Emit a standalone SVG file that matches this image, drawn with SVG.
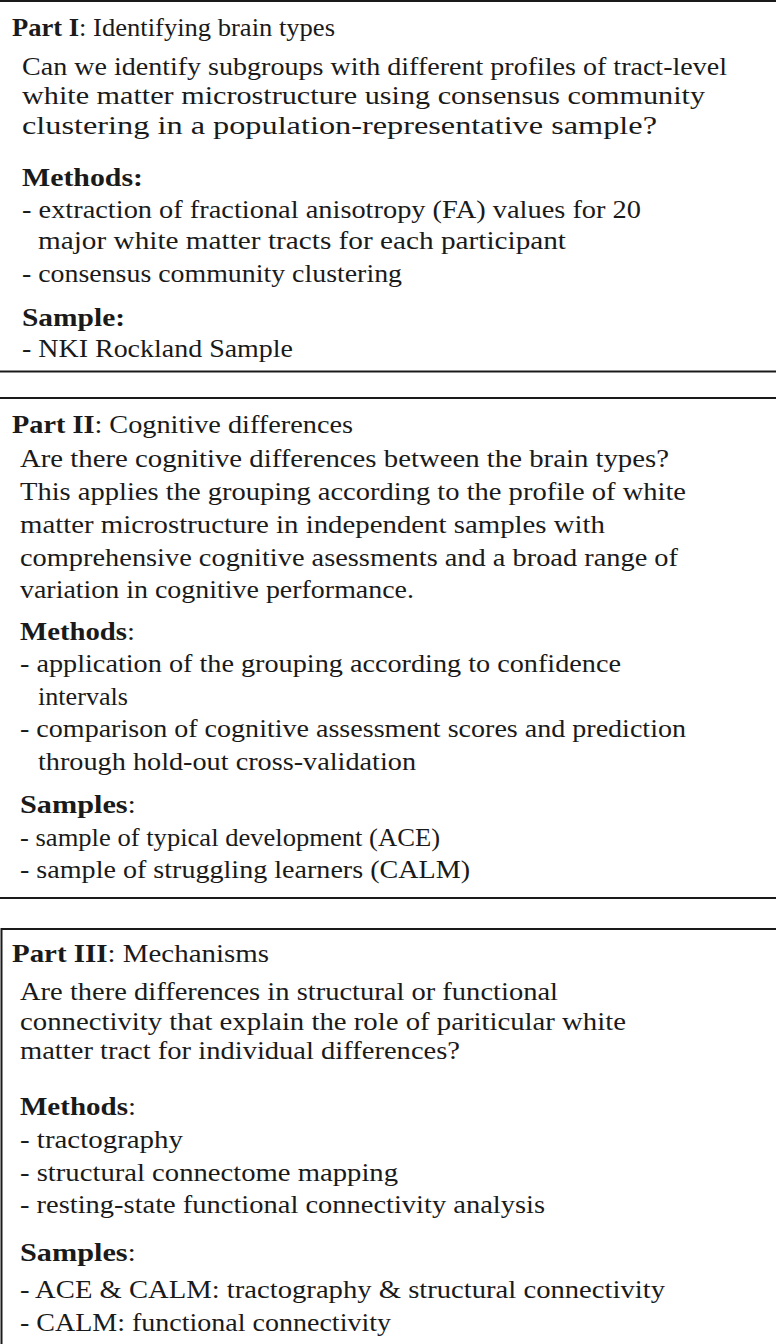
<svg xmlns="http://www.w3.org/2000/svg" width="776" height="1344" viewBox="0 0 776 1344">
<style>
text{font-family:"Liberation Serif","Times New Roman",serif;font-size:25px;fill:#1a1a1a}
.b{font-weight:bold}
.rule{stroke:#1a1a1a;stroke-width:2;fill:none}
</style>
<rect width="776" height="1344" fill="#fff"/>
<g id="part1">
<line class="rule" x1="0" y1="1" x2="776" y2="1"/>
<line class="rule" x1="0" y1="371.5" x2="776" y2="371.5"/>
<text x="12" y="36" textLength="323" lengthAdjust="spacingAndGlyphs"><tspan class="b">Part I</tspan>: Identifying brain types</text>
<text x="22" y="75" textLength="705" lengthAdjust="spacingAndGlyphs">Can we identify subgroups with different profiles of tract-level</text>
<text x="22" y="104" textLength="683" lengthAdjust="spacingAndGlyphs">white matter microstructure using consensus community</text>
<text x="22" y="134" textLength="635" lengthAdjust="spacingAndGlyphs">clustering in a population-representative sample?</text>
<text x="22" y="186" class="b" textLength="121" lengthAdjust="spacingAndGlyphs">Methods:</text>
<text x="22" y="218" textLength="619" lengthAdjust="spacingAndGlyphs">- extraction of fractional anisotropy (FA) values for 20</text>
<text x="38" y="249" textLength="528" lengthAdjust="spacingAndGlyphs">major white matter tracts for each participant</text>
<text x="22" y="282" textLength="380" lengthAdjust="spacingAndGlyphs">- consensus community clustering</text>
<text x="22" y="326" class="b" textLength="103" lengthAdjust="spacingAndGlyphs">Sample:</text>
<text x="22" y="357" textLength="271" lengthAdjust="spacingAndGlyphs">- NKI Rockland Sample</text>
</g>
<g id="part2">
<line class="rule" x1="0" y1="398" x2="776" y2="398"/>
<line class="rule" x1="0" y1="898" x2="776" y2="898"/>
<text x="12" y="433" textLength="341" lengthAdjust="spacingAndGlyphs"><tspan class="b">Part II</tspan>: Cognitive differences</text>
<text x="20" y="467" textLength="649" lengthAdjust="spacingAndGlyphs">Are there cognitive differences between the brain types?</text>
<text x="20" y="500" textLength="666" lengthAdjust="spacingAndGlyphs">This applies the grouping according to the profile of white</text>
<text x="20" y="533" textLength="585" lengthAdjust="spacingAndGlyphs">matter microstructure in independent samples with</text>
<text x="20" y="566" textLength="658" lengthAdjust="spacingAndGlyphs">comprehensive cognitive asessments and a broad range of</text>
<text x="20" y="598" textLength="394" lengthAdjust="spacingAndGlyphs">variation in cognitive performance.</text>
<text x="20" y="640" textLength="115" lengthAdjust="spacingAndGlyphs"><tspan class="b">Methods</tspan>:</text>
<text x="20" y="672" textLength="601" lengthAdjust="spacingAndGlyphs">- application of the grouping according to confidence</text>
<text x="38" y="705" textLength="90" lengthAdjust="spacingAndGlyphs">intervals</text>
<text x="20" y="737" textLength="666" lengthAdjust="spacingAndGlyphs">- comparison of cognitive assessment scores and prediction</text>
<text x="38" y="770" textLength="378" lengthAdjust="spacingAndGlyphs">through hold-out cross-validation</text>
<text x="20" y="813" textLength="116" lengthAdjust="spacingAndGlyphs"><tspan class="b">Samples</tspan>:</text>
<text x="20" y="846" textLength="420" lengthAdjust="spacingAndGlyphs">- sample of typical development (ACE)</text>
<text x="20" y="878" textLength="450" lengthAdjust="spacingAndGlyphs">- sample of struggling learners (CALM)</text>
</g>
<g id="part3">
<polyline class="rule" points="1.5,1344 1.5,929 776,929"/>
<text x="12" y="962" textLength="257" lengthAdjust="spacingAndGlyphs"><tspan class="b">Part III</tspan>: Mechanisms</text>
<text x="20" y="1000" textLength="538" lengthAdjust="spacingAndGlyphs">Are there differences in structural or functional</text>
<text x="20" y="1030" textLength="606" lengthAdjust="spacingAndGlyphs">connectivity that explain the role of pariticular white</text>
<text x="20" y="1059" textLength="440" lengthAdjust="spacingAndGlyphs">matter tract for individual differences?</text>
<text x="20" y="1115" textLength="116" lengthAdjust="spacingAndGlyphs"><tspan class="b">Methods</tspan>:</text>
<text x="20" y="1148" textLength="163" lengthAdjust="spacingAndGlyphs">- tractography</text>
<text x="20" y="1181" textLength="378" lengthAdjust="spacingAndGlyphs">- structural connectome mapping</text>
<text x="20" y="1213" textLength="525" lengthAdjust="spacingAndGlyphs">- resting-state functional connectivity analysis</text>
<text x="20" y="1261" textLength="116" lengthAdjust="spacingAndGlyphs"><tspan class="b">Samples</tspan>:</text>
<text x="20" y="1298" textLength="645" lengthAdjust="spacingAndGlyphs">- ACE &amp; CALM: tractography &amp; structural connectivity</text>
<text x="20" y="1331" textLength="371" lengthAdjust="spacingAndGlyphs">- CALM: functional connectivity</text>
</g>
</svg>
